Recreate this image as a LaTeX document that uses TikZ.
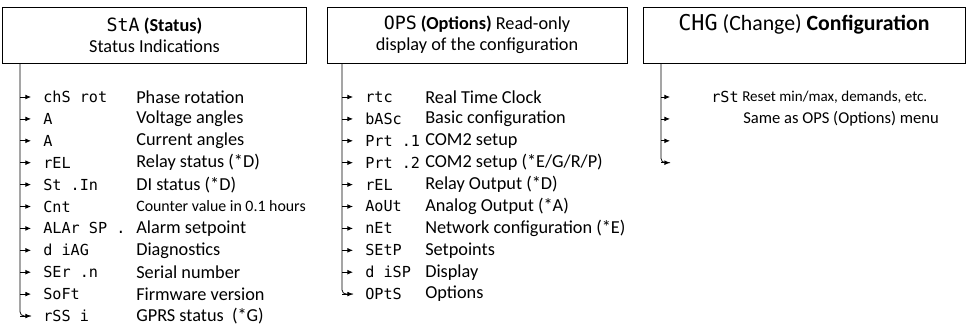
\documentclass[tikz,border=0pt]{standalone}
\usepackage{fontspec}
\setmainfont{Carlito}
\newfontfamily\segfont{DejaVu Sans Mono}
\usetikzlibrary{arrows.meta, positioning}

\tikzset{
  menubox/.style={draw, line width=0.6pt, minimum height=1.4cm, align=center, inner sep=2pt},
  branch/.style={-{Latex[length=4pt,width=3.4pt]}, line width=0.55pt},
  code/.style={anchor=west, inner sep=0pt, font=\segfont\fontsize{10.8}{13}\selectfont},
  desc/.style={anchor=west, inner sep=0pt},
}

\begin{document}
\begin{tikzpicture}[x=0.025cm, y=-0.025cm, font=\fontsize{13}{15}\selectfont]
  \useasboundingbox (0,0) rectangle (973,332);

  % Status menu
  \node[menubox, minimum width=7.58cm] (sta) at (154.5,35)
    {{\segfont StA} \textbf{(Status)}\\Status Indications};
  \coordinate (sta trunk) at (20,63);
  \foreach \code/\txt [count=\i from 0] in {
      chS rot/Phase rotation, A/Voltage angles, A/Current angles,
      rEL/Relay status (*D), St .In/DI status (*D),
      Cnt/{\fontsize{11.3}{13}\selectfont Counter value in 0.1 hours},
      ALAr SP ./Alarm setpoint, d iAG/Diagnostics, SEr .n/Serial number,
      SoFt/Firmware version, rSS i/GPRS status~~(*G)} {
    \coordinate (sta end\i) at (31,{97+21.9*\i});
    \node[code] (sta code\i) at (43,{97+21.9*\i}) {\code};
    \node[desc] (sta desc\i) at (136,{97+21.9*\i}) {\txt};
    \draw[branch] (sta trunk |- sta end\i) -- (sta end\i);
  }
  \draw[line width=0.55pt, rounded corners=3pt] (sta trunk) |- (sta end10);

  % Options menu
  \node[menubox, minimum width=7.5cm] (ops) at (477,35)
    {{\segfont OPS} \textbf{(Options)} Read-only\\display of the configuration};
  \coordinate (ops trunk) at (342,63);
  \foreach \code/\txt [count=\i from 0] in {
      rtc/Real Time Clock, bASc/Basic configuration, Prt .1/COM2 setup,
      Prt .2/{COM2 setup (*E/G/R/P)}, rEL/Relay Output (*D),
      AoUt/Analog Output (*A), nEt/Network configuration (*E),
      SEtP/Setpoints, d iSP/Display, OPtS/Options} {
    \coordinate (ops end\i) at (353,{97+21.9*\i});
    \node[code] (ops code\i) at (365,{97+21.9*\i}) {\code};
    \node[desc] (ops desc\i) at (425,{97+21.9*\i}) {\txt};
    \draw[branch] (ops trunk |- ops end\i) -- (ops end\i);
  }
  \draw[line width=0.55pt, rounded corners=3pt] (ops trunk) |- (ops end9);

  % Change menu
  \node[menubox, minimum width=8.05cm, text depth=0.62cm,
        font=\fontsize{15.5}{18}\selectfont] (chg) at (804,35)
    {{\segfont CHG} (Change) \textbf{Configuration}};
  \coordinate (chg trunk) at (661,63);
  \foreach \i in {0,...,3} {
    \coordinate (chg end\i) at (670,{97+21.9*\i});
    \draw[branch] (chg trunk |- chg end\i) -- (chg end\i);
  }
  \draw[line width=0.55pt, rounded corners=3pt] (chg trunk) |- (chg end3);
  \node[code, anchor=east] (chg code0) at (739,97) {rSt};
  \node[desc, font=\fontsize{10.7}{13}\selectfont] (chg desc0) at (742,97)
    {Reset min/max, demands, etc.};
  \node[desc, font=\fontsize{11.8}{14}\selectfont] (chg desc1) at (743,118.9)
    {Same as OPS (Options) menu};
\end{tikzpicture}
\end{document}
